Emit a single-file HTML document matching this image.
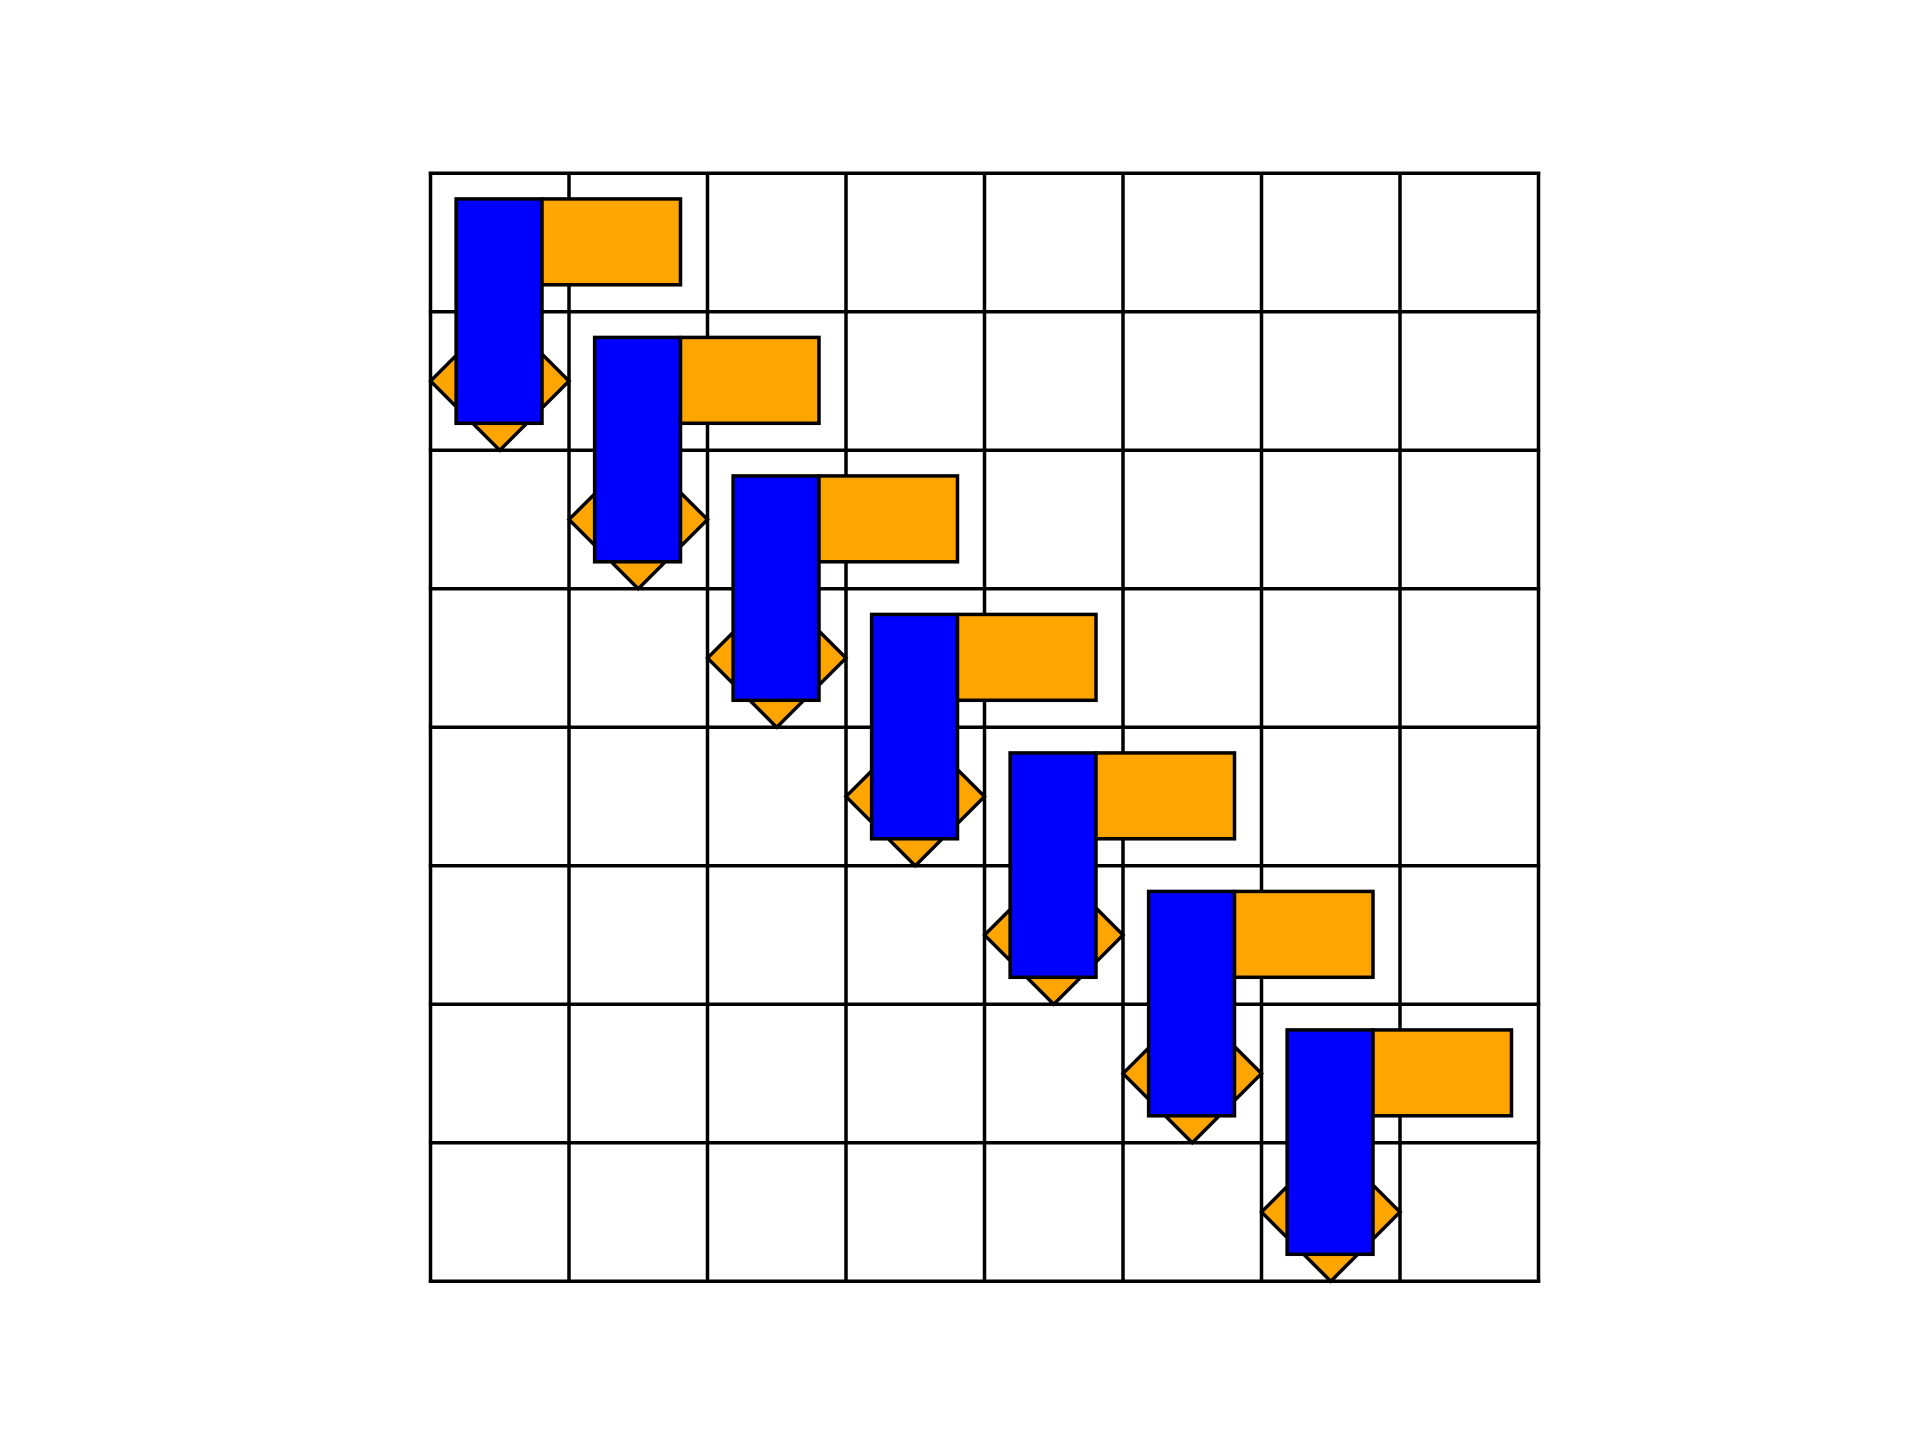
<!DOCTYPE html>
<html><head><meta charset="utf-8"><style>html,body{margin:0;padding:0;background:#fff;width:1920px;height:1440px;overflow:hidden}</style></head>
<body>
<svg id="chart" width="1920" height="1440" xmlns="http://www.w3.org/2000/svg"></svg>
<script>
const gridCols = [0,1,2,3,4,5,6,7,8];
const itemCols = [0,1,2,3,4,5,6];
const itemRows = [0,1,2,3,4,5,6];
const blueSize = [0.62, 1.62];
const orangeSize = [1.0, 0.62];
const inset = 0.185;

const X0 = 430.5, Y0 = 173.3, CELL = 138.5;
const sx = v => X0 + v * CELL;
const sy = v => Y0 + v * CELL;
const svg = document.getElementById('chart');
const NS = 'http://www.w3.org/2000/svg';
function mk(tag, attrs) {
  const e = document.createElementNS(NS, tag);
  for (const k in attrs) e.setAttribute(k, attrs[k]);
  svg.appendChild(e);
  return e;
}
gridCols.forEach(g => {
  let l = mk('line', {x1: sx(g), x2: sx(g), y1: sy(0), y2: sy(8), stroke: '#000', 'stroke-width': 3.5, 'stroke-linecap': 'square'});
  
  
  let h = mk('line', {x1: sx(0), x2: sx(8), y1: sy(g), y2: sy(g), stroke: '#000', 'stroke-width': 3.5, 'stroke-linecap': 'square'});
  
  
});
itemCols.forEach((c, i) => {
  const r = itemRows[i];
  const cx = sx(c + 0.5), cy = sy(r + 1.5), h = CELL / 2;
  const d = mk('polygon', {points: `${cx-h},${cy} ${cx},${cy-h} ${cx+h},${cy} ${cx},${cy+h}`, fill: 'orange', stroke: '#000', 'stroke-width': 3.5});
  
  
  const b = mk('rect', {x: sx(c + inset), y: sy(r + inset), width: blueSize[0] * CELL, height: blueSize[1] * CELL, fill: '#0000ff', stroke: '#000', 'stroke-width': 3.5});
  
  
  const o = mk('rect', {x: sx(c + inset + blueSize[0]), y: sy(r + inset), width: orangeSize[0] * CELL, height: orangeSize[1] * CELL, fill: 'orange', stroke: '#000', 'stroke-width': 3.5});
  
  
});
</script>
</body></html>
